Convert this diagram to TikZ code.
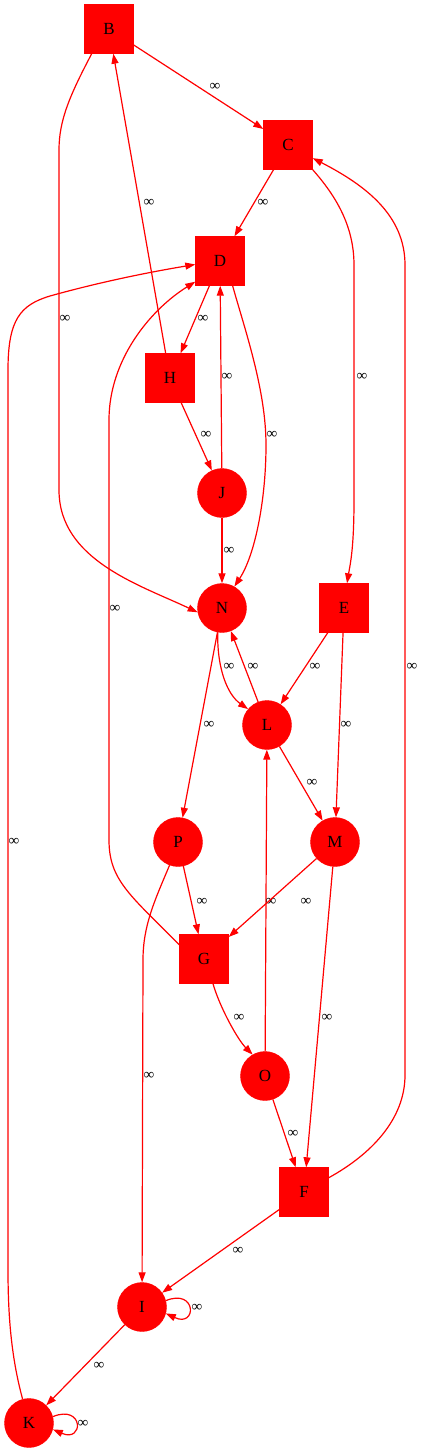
\documentclass[tikz,border=0pt]{standalone}
\usepackage{fontspec}
\setmainfont{Liberation Serif}
\usetikzlibrary{arrows.meta}

\begin{document}
\begin{tikzpicture}[
		x=1pt, y=-1pt,
		sqr/.style = {rectangle, fill=red, draw=red,% square states
			minimum width=49pt, minimum height=49pt, inner sep=0pt,
			font=\fontsize{17}{17}\selectfont},
		crc/.style = {circle, fill=red, draw=red,% round states
			minimum size=49pt, inner sep=0pt,
			font=\fontsize{17}{17}\selectfont},
		arr/.style = {draw=red, line width=1.2pt,
			-{Triangle[length=10pt, width=7pt]}},
		lbl/.style = {inner sep=0pt, font=\fontsize{15}{15}\selectfont},
		]
		\useasboundingbox (0,0) rectangle (424,1453);
		\foreach \n/\x/\y in {B/109/29, C/288/145, D/220/261, H/170/378,
			E/344/608, G/204/959, F/304/1192}
		\node[sqr] (\n) at (\x,\y) {\n};
		\foreach \n/\x/\y in {J/222/493, N/222/608, L/267/725, M/335/842,
			P/178/842, O/265/1076, I/142/1307, K/29/1423}
		\node[crc] (\n) at (\x,\y) {\n};
		% straight edges: from/to/label x/label y
		\foreach \a/\b/\lx/\ly in {B/C/215/87, C/D/263/203, H/B/149/203,
			D/H/203/319, J/D/227/377, H/J/206/435, J/N/229/551, L/N/253/667,
			E/L/315/667, N/P/209/725, E/M/346/725, L/M/312/783, P/G/202/902,
			O/L/271/902, M/G/306/902, M/F/327/1018, O/F/293/1134,
			F/I/238/1251, I/K/99/1366}
		\draw[arr] (\a) -- (\b) node[lbl] at (\lx,\ly) {∞};
		% bent edges
		\draw[arr] (B.235) .. controls (70,95) and (59,120) .. (59,150)
			-- (59,490) .. controls (59,560) and (140,585) .. (N.190)
			node[lbl] at (65,319) {∞};
		\draw[arr] (C.-45) .. controls (335,195) and (354,225) .. (354,265)
			-- (354,500) .. controls (354,550) and (350,565) .. (E.83)
			node[lbl] at (362,377) {∞};
		\draw[arr] (D.-63) .. controls (245,330) and (266,390) .. (266,445)
			.. controls (266,500) and (255,555) .. (N.60)
			node[lbl] at (272,435) {∞};
		\draw[arr] (K.105) .. controls (12,1360) and (8,1320) .. (8,1270)
			-- (8,370) .. controls (8,320) and (20,305) .. (50,296)
			.. controls (100,282) and (150,272) .. (D.188)
			node[lbl] at (14,842) {∞};
		\draw[arr] (G.150) .. controls (130,895) and (109,880) .. (109,840)
			-- (109,420) .. controls (109,360) and (150,310) .. (D.220)
			node[lbl] at (115,609) {∞};
		\draw[arr] (F.30) .. controls (370,1155) and (405,1120) .. (405,1075)
			-- (405,265) .. controls (405,215) and (365,185) .. (C.-28)
			node[lbl] at (412,667) {∞};
		\draw[arr] (P.-110) .. controls (155,900) and (143,925) .. (143,960)
			-- (I) node[lbl] at (149,1076) {∞};
		\draw[arr] (N.260) .. controls (217,670) and (228,695) .. (L.140)
			node[lbl] at (229,667) {∞};
		\draw[arr] (G.-70) .. controls (220,1008) and (238,1040) .. (O.120)
			node[lbl] at (239,1018) {∞};
		% self loops
		\draw[arr] (I.15) .. controls (197,1288) and (197,1328) .. (I.-15)
			node[lbl] at (197,1308) {∞};
		\draw[arr] (K.15) .. controls (84,1404) and (84,1443) .. (K.-15)
			node[lbl] at (83,1424) {∞};
	\end{tikzpicture}
\end{document}
